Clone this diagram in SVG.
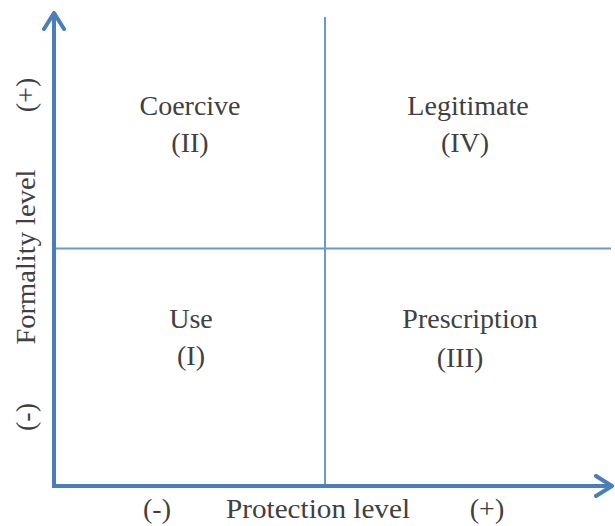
<svg xmlns="http://www.w3.org/2000/svg" width="615" height="526" viewBox="0 0 615 526">
<style>
.t{font-family:"Liberation Serif","Times New Roman",serif;font-size:28px;fill:#404040;text-anchor:middle}
.axis{fill:none;stroke:#4a7ebb;stroke-width:4;stroke-linejoin:round}
.quad{fill:none;stroke:#6b98d0;stroke-width:2}
</style>
<defs>
<marker id="chev" viewBox="0 0 20 24" refX="18" refY="12" markerWidth="20" markerHeight="24" markerUnits="userSpaceOnUse" orient="auto">
<path d="M2,2 L18,12 L2,22" fill="none" stroke="#4a7ebb" stroke-width="4" stroke-linecap="round" stroke-linejoin="round"/>
</marker>
</defs>
<g id="connectors">
<line class="quad" x1="325" y1="17" x2="325" y2="486"/>
<line class="quad" x1="54" y1="248.5" x2="611" y2="248.5"/>
<line class="axis" x1="54" y1="486" x2="54" y2="13" marker-end="url(#chev)"/>
<line class="axis" x1="52" y1="486" x2="612" y2="486" marker-end="url(#chev)"/>
</g>
<g id="q2"><text class="t" x="190" y="115">Coercive</text><text class="t" x="190" y="152">(II)</text></g>
<g id="q4"><text class="t" x="468" y="115">Legitimate</text><text class="t" x="465" y="152">(IV)</text></g>
<g id="q1"><text class="t" x="191" y="328">Use</text><text class="t" x="191" y="365">(I)</text></g>
<g id="q3"><text class="t" x="470" y="328">Prescription</text><text class="t" x="460" y="367">(III)</text></g>
<g id="yaxis-label">
<text class="t" transform="translate(35,95) rotate(-90)">(+)</text>
<text class="t" transform="translate(35,257) rotate(-90)" textLength="175" lengthAdjust="spacingAndGlyphs">Formality level</text>
<text class="t" transform="translate(35,417) rotate(-90)">(-)</text>
</g>
<g id="xaxis-label">
<text class="t" x="157" y="518">(-)</text>
<text class="t" x="318" y="518" textLength="184" lengthAdjust="spacingAndGlyphs">Protection level</text>
<text class="t" x="487" y="518">(+)</text>
</g>
</svg>
